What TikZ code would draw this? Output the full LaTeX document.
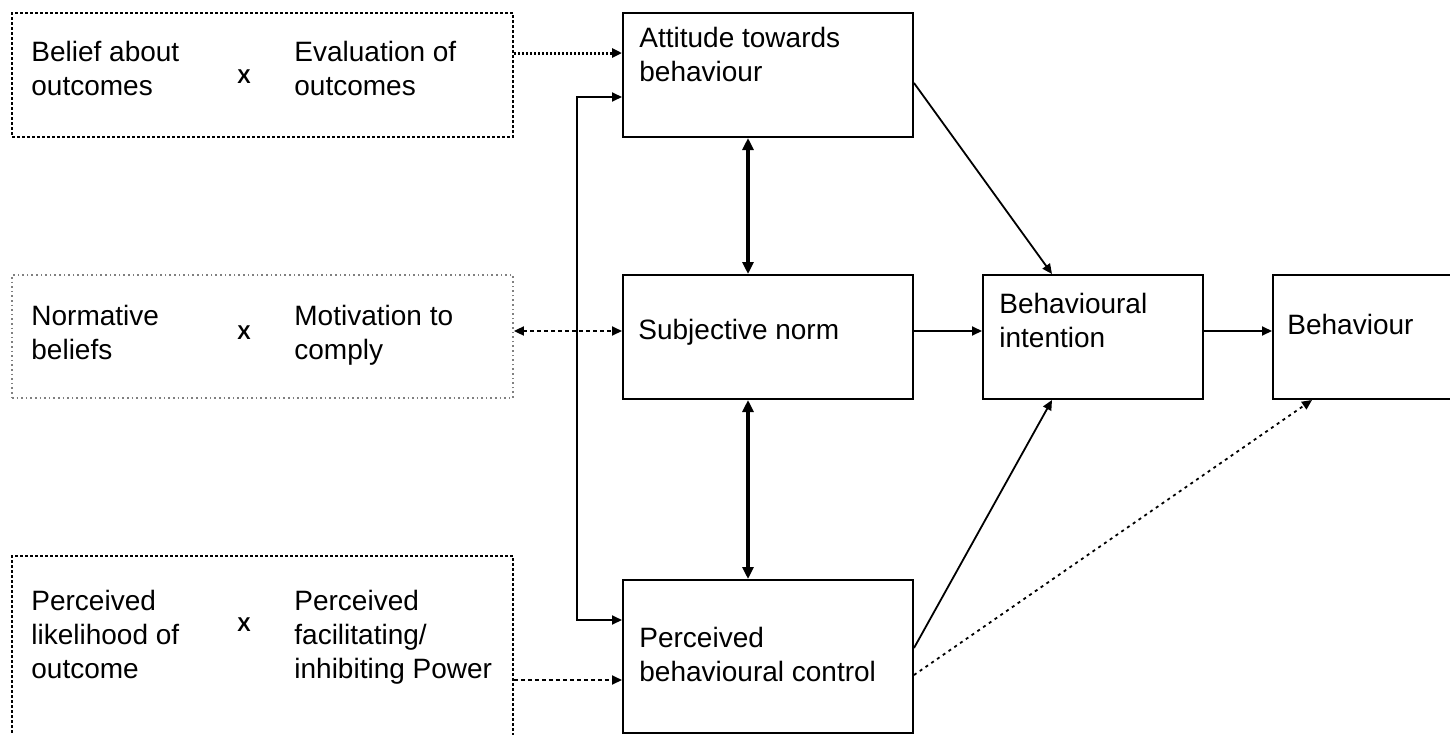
\documentclass[tikz,border=0pt]{standalone}
\usepackage{fontspec}
\setmainfont{Liberation Sans}
\usetikzlibrary{arrows.meta,calc}

\begin{document}
\begin{tikzpicture}[x=0.5pt,y=-0.5pt,
  >={Triangle[length=5pt,width=4.5pt]},
  box/.style={draw,line width=1pt,inner sep=0pt},
  dotbox/.style={draw,line width=0.9pt,dash pattern=on 1.5pt off 1pt,inner sep=0pt},
  txt/.style={anchor=base west,align=left,inner sep=0pt,
    font=\fontsize{14pt}{17pt}\selectfont},
  times/.style={inner sep=0pt,font=\fontsize{10pt}{10pt}\selectfont\bfseries},
  conn/.style={line width=0.9pt},
  bold conn/.style={line width=1.8pt,>={Triangle[length=6pt,width=5.5pt]}},
  dotconn/.style={line width=0.9pt,dash pattern=on 2pt off 1.5pt}]
  \useasboundingbox (0,0) rectangle (1450,734);
  \clip (0,0) rectangle (1450,734);
  \fill[white] (0,0) rectangle (1450,734);

  % belief boxes on the left
  \node[dotbox,minimum width=250.5pt,minimum height=62pt] (belief) at (262.5,75) {};
  \node[dotbox,gray,dash pattern=on 0.8pt off 1.5pt,
    minimum width=250.5pt,minimum height=61.5pt] (norm) at (262.5,336.5) {};
  \node[dotbox,minimum width=250.5pt,minimum height=112pt] (likely) at (262.5,668) {};

  % (base = last line)
  \node[txt] (beliefTxt) at (31,95) {Belief about\\outcomes};
  \node[times] (beliefX) at (244,77) {X};
  \node[txt] (evalTxt) at (294,95) {Evaluation of\\outcomes};
  \node[txt] (normTxt) at (31,359) {Normative\\beliefs};
  \node[times] (normX) at (244,333) {X};
  \node[txt] (motivTxt) at (294,359) {Motivation to\\comply};
  \node[txt] (likelyTxt) at (31,678) {Perceived\\likelihood of\\outcome};
  \node[times] (likelyX) at (244,625) {X};
  \node[txt] (powerTxt) at (294,678) {Perceived\\facilitating/\\inhibiting Power};

  % model boxes
  \node[box,minimum width=145pt,minimum height=62pt] (att) at (768,75) {};
  \node[box,minimum width=145pt,minimum height=62pt] (subj) at (768,337) {};
  \node[box,minimum width=145pt,minimum height=76.5pt] (pbc) at (768,656.5) {};
  \node[box,minimum width=110pt,minimum height=62pt] (bi) at (1093,337) {};
  \node[box,minimum width=100pt,minimum height=62pt] (beh) at (1373,337) {};

  \node[txt] (attTxt) at (639,81) {Attitude towards\\behaviour};
  \node[txt] (subjTxt) at (638,339) {Subjective norm};
  \node[txt] (pbcTxt) at (639,681) {Perceived\\behavioural control};
  \node[txt] (biTxt) at (999,347) {Behavioural\\intention};
  \node[txt] (behTxt) at (1287,334) {Behaviour};

  % connectors
  \draw[line width=1.5pt,dash pattern=on 1pt off 1pt,->]
    ([yshift=11pt]belief.east) -- ([yshift=11pt]att.west);
  \draw[dotconn,<->] ([yshift=2.75pt]norm.east) -- ([yshift=3pt]subj.west);
  \draw[dotconn,->] ([yshift=-6pt]likely.east) -- ([yshift=-11.75pt]pbc.west);

  \coordinate (attIn) at ([yshift=-11pt]att.west);
  \coordinate (pbcIn) at ([yshift=18.25pt]pbc.west);
  \coordinate (bus) at (577,0);
  \draw[conn,<->] (attIn) -- (attIn -| bus) -- (pbcIn -| bus) -- (pbcIn);

  \draw[bold conn,<->] ([xshift=-10pt]att.south) -- ([xshift=-10pt]subj.north);
  \draw[bold conn,<->] ([xshift=-10pt]subj.south) -- ([xshift=-10pt]pbc.north);

  \draw[conn,->] ([yshift=3pt]subj.east) -- ([yshift=3pt]bi.west);
  \draw[conn,->] ([yshift=3pt]bi.east) -- ([yshift=3pt]beh.west);
  \draw[conn,->] ([yshift=-4pt]att.east) -- ([xshift=-20.5pt]bi.north);
  \draw[conn,->] ([yshift=4.25pt]pbc.east) -- ([xshift=-20.5pt]bi.south);
  \draw[conn,dash pattern=on 1.5pt off 2pt,->]
    ([yshift=-9.25pt]pbc.east) -- ([xshift=-30.5pt]beh.south);
\end{tikzpicture}
\end{document}
